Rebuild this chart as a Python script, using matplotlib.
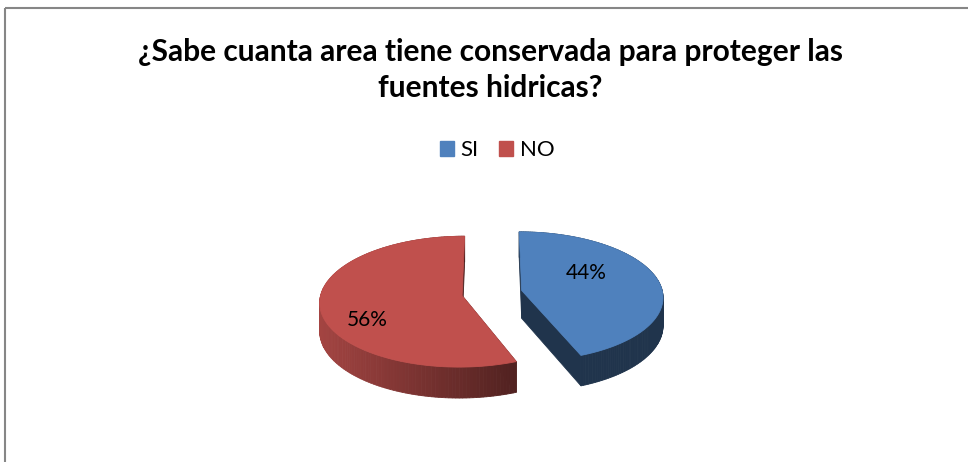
import numpy as np
import matplotlib.pyplot as plt
from matplotlib.patches import Polygon, Patch, Rectangle
from matplotlib.colors import to_rgb

# Survey answers
labels = ['SI', 'NO']
values = [44, 56]
colors = ['#4F81BD', '#C0504D']
title_lines = ['¿Sabe cuanta area tiene conservada para proteger las', 'fuentes hidricas?']

# 3D pie layout (pixel units)
cx, cy = 492, 293        # pie centre
a, b = 141, 64.4         # horizontal / vertical radii of the top face
k = 0.092                # perspective squeeze of the far side
depth = 28               # thickness of the pie
explode = 0.215          # slice offset, in radius units
label_r = [0.55, 0.74]
label_shift = -19        # degrees, label angle relative to slice middle


def project(u, v, z=0.0):
    s = 1 + k * v
    return cx + a * u / s, cy - b * v / s + depth * z / s


def shade(rgb, xn):
    f = np.clip(0.85 - 0.31 * (xn + 1.21), 0.40, 0.9)
    return tuple(c * f for c in rgb)


fig = plt.figure(figsize=(9.68, 4.62), dpi=100)
ax = fig.add_axes([0, 0, 1, 1])
ax.set_xlim(0, 968)
ax.set_ylim(462, 0)
ax.axis('off')

# chart frame (right and bottom sides fall outside the image)
ax.add_patch(Rectangle((4.5, 7.5), 1000, 500, fill=False, ec='#868686', lw=1.5, clip_on=False))

total = float(sum(values))
sides = []
tops = []
start = 0.0
for i, val in enumerate(values):
    span = 360.0 * val / total
    t1, t2 = start, start + span
    start = t2
    mid = np.radians((t1 + t2) / 2)
    ou, ov = explode * np.sin(mid), explode * np.cos(mid)
    rgb = to_rgb(colors[i])

    th = np.radians(np.linspace(t1, t2, 160))
    us = ou + np.sin(th)
    vs = ov + np.cos(th)

    # top face
    pts = [project(ou, ov)] + [project(u, v) for u, v in zip(us, vs)]
    tops.append((pts, colors[i]))

    # outer wall, split in strips for the gradient
    for j in range(len(th) - 1):
        quad = [project(us[j], vs[j]), project(us[j + 1], vs[j + 1]),
                project(us[j + 1], vs[j + 1], 1), project(us[j], vs[j], 1)]
        xn = (quad[0][0] - cx) / a
        sides.append(((vs[j] + vs[j + 1]) / 2, quad, shade(rgb, xn)))

    # cut faces
    for t in (t1, t2):
        tr = np.radians(t)
        eu, ev = ou + np.sin(tr), ov + np.cos(tr)
        quad = [project(ou, ov), project(eu, ev), project(eu, ev, 1), project(ou, ov, 1)]
        sides.append(((ov + ev) / 2, quad, tuple(c * 0.4 for c in rgb)))

    # percentage label
    la = np.radians(np.degrees(mid) + label_shift)
    lx, ly = project(ou + label_r[i] * np.sin(la), ov + label_r[i] * np.cos(la))
    ax.text(lx, ly, f'{val:.0f}%', ha='center', va='center', fontsize=15,
            family='Lato', color='black', zorder=10)

sides.sort(key=lambda s: -s[0])
for _, quad, col in sides:
    ax.add_patch(Polygon(quad, closed=True, fc=col, ec=col, lw=0.6))
for pts, col in tops:
    ax.add_patch(Polygon(pts, closed=True, fc=col, ec=col, lw=0.6))

for line, base in zip(title_lines, (61, 97)):
    ax.text(490, base, line, ha='center', va='baseline', fontsize=21.5,
            fontweight='bold', family='Lato')

handles = [Patch(fc=c, ec=c) for c in colors]
ax.legend(handles, labels, loc='center', bbox_to_anchor=(497 / 968, 1 - 150 / 462),
          ncol=2, frameon=False, handlelength=0.65, handleheight=0.68,
          handletextpad=0.3, columnspacing=0.9, prop={'family': 'Lato', 'size': 16})

fig.savefig('out.png', dpi=100)
